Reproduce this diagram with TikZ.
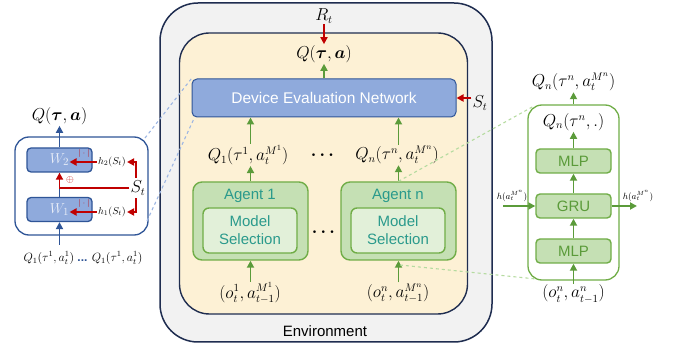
\documentclass[tikz,border=0pt]{standalone}
\usepackage[no-math]{fontspec}
\setmainfont{Liberation Sans}
\usepackage{amsmath,bm}
\usetikzlibrary{arrows.meta,calc}
\definecolor{envgray}{HTML}{F2F2F2}
\definecolor{navy}{HTML}{1F2D50}
\definecolor{ylw}{HTML}{FDF1D5}
\definecolor{bfill}{HTML}{8FAADC}
\definecolor{bdraw}{HTML}{2F5597}
\definecolor{gfill}{HTML}{C5E0B4}
\definecolor{gfilltwo}{HTML}{E2F0D9}
\definecolor{gdraw}{HTML}{70AD47}
\definecolor{garr}{HTML}{5B9B3A}
\definecolor{tealtxt}{HTML}{2A9A8C}
\definecolor{gtxt}{HTML}{5B9B3A}
\definecolor{rd}{HTML}{C00000}
\definecolor{dblue}{HTML}{9DB6E3}
\definecolor{dgreen}{HTML}{B5DBA0}
\definecolor{wtxt}{HTML}{E9EEF8}
\begin{document}
\begin{tikzpicture}[x=1pt,y=-1pt,
  tipx/.style={-{Triangle[length=7pt,width=7pt]}},
  garrow/.style={tipx, draw=garr, line width=1.8pt},
  barrow/.style={tipx, draw=bdraw, line width=1.8pt},
  rarrow/.style={tipx, draw=rd, line width=1.8pt},
  mlab/.style={font=\fontsize{16}{18}\selectfont, inner sep=1pt},
  txt/.style={font=\fontsize{15}{18}\selectfont},
  envbox/.style={draw=navy, fill=envgray, line width=1.5pt, rounded corners=38pt},
  ybox/.style={draw=navy, fill=ylw, line width=1.4pt, rounded corners=30pt},
  denbox/.style={draw=bdraw, fill=bfill, line width=1pt, rounded corners=5pt, text=white, font=\fontsize{15.5}{18}\selectfont},
  agentbox/.style={draw=gdraw, fill=gfill, line width=1.4pt, rounded corners=9pt},
  msbox/.style={draw=gdraw, fill=gfilltwo, line width=1.4pt, rounded corners=6pt, text=tealtxt, align=center, font=\fontsize{15}{18}\selectfont},
  mlpbox/.style={draw=gdraw, fill=gfill, line width=1.4pt, rounded corners=4pt, text=gtxt, font=\fontsize{15}{18}\selectfont, minimum width=75pt, minimum height=24pt},
  wbox/.style={draw=bdraw, fill=bfill, line width=1.3pt, rounded corners=4pt, text=wtxt, font=\fontsize{15}{17}\selectfont},
  dashb/.style={draw=dblue, dashed, line width=1.1pt},
  dashg/.style={draw=dgreen, dashed, line width=1.1pt}
]
\useasboundingbox (0,0) rectangle (675,347);

% ---------- environment ----------
\node[envbox, minimum width=332pt, minimum height=339pt] (env) at (326,172.5) {};
\node[ybox, minimum width=288pt, minimum height=281pt] (yel) at (323.5,173.5) {};
\node[txt] (envlab) at (325,331) {Environment};

\node[mlab] (rt) at (324,16) {$R_t$};
\node[mlab] (qtop) at (324,54) {$Q(\bm{\tau},\bm{a})$};
\node[denbox, minimum width=264pt, minimum height=38pt] (den) at (324,98) {Device Evaluation Network};
\node[mlab] (st) at (480,103) {$S_t$};

\draw[rarrow] (rt.south) -- (qtop.north);
\draw[garrow] (den.north) -- (qtop.south);
\draw[rarrow] (st.west |- den.east) -- (den.east);

\node[mlab] (q1) at (248,155) {$Q_1(\tau^1, a_t^{M^1})$};
\node[mlab] (qn) at (397,155) {$Q_n(\tau^n, a_t^{M^n})$};
\node[mlab] (dots1) at (324,155) {$\boldsymbol{\cdots}$};

\node[agentbox, minimum width=115pt, minimum height=78pt] (a1) at (250.5,221) {};
\node[agentbox, minimum width=115pt, minimum height=78pt] (an) at (398.5,221) {};
\node[txt, text=tealtxt] (a1t) at (250,196) {Agent 1};
\node[txt, text=tealtxt] (ant) at (398,196) {Agent n};
\node[msbox, minimum width=94pt, minimum height=45pt] (ms1) at (250,230.5) {Model\\Selection};
\node[msbox, minimum width=94pt, minimum height=45pt] (msn) at (398,230.5) {Model\\Selection};
\node[mlab] (dots2) at (325,232) {$\boldsymbol{\cdots}$};

\node[mlab] (o1) at (250,293) {$(o_t^1, a_{t-1}^{M^1})$};
\node[mlab] (on) at (398,293) {$(o_t^n, a_{t-1}^{M^n})$};

\draw[garrow] (q1.north -| a1.north) -- (den.south -| a1.north);
\draw[garrow] (qn.north -| an.north) -- (den.south -| an.north);
\draw[garrow] (a1.north) -- (q1.south -| a1.north);
\draw[garrow] (an.north) -- (qn.south -| an.north);
\draw[garrow] (o1.north -| a1.south) -- (a1.south);
\draw[garrow] (on.north -| an.south) -- (an.south);

% ---------- left detail ----------
\node[draw=bdraw, fill=white, line width=1.3pt, rounded corners=14pt, minimum width=133pt, minimum height=98pt] (lbox) at (81.5,186) {};
\node[wbox, minimum width=65pt, minimum height=24pt] (w2) at (59.5,160) {$W_2$};
\node[wbox, minimum width=65pt, minimum height=24pt] (w1) at (59.5,209.5) {$W_1$};
\node[mlab] (ql) at (59.5,116) {$Q(\bm{\tau},\bm{a})$};
\node[font=\fontsize{12}{14}\selectfont, inner sep=0pt] (qbot) at (83,258) {$Q_1(\tau^1,a_t^1)$ {\color{bdraw}\textbf{...}} $Q_1(\tau^1,a_t^1)$};
\coordinate (lin) at (59.5,245);
\draw[barrow] (w2.north) -- (ql.south);
\draw[barrow] (lin) -- (w1.south);
\draw[bdraw, line width=1.8pt] (w1.north) -- (w2.south);

\node[font=\fontsize{10}{11}\selectfont, inner sep=1pt] (h2) at (112,162) {$h_2(S_t)$};
\node[font=\fontsize{10}{11}\selectfont, inner sep=1pt] (h1) at (112,212) {$h_1(S_t)$};
\node[font=\fontsize{16}{18}\selectfont, inner sep=1pt] (stl) at (138,188) {$S_t$};
\node[text=rd, font=\fontsize{8}{9}\selectfont, inner sep=0pt] (abs2) at (84,154) {$|\cdot|$};
\node[text=rd, font=\fontsize{8}{9}\selectfont, inner sep=0pt] (abs1) at (84,203.5) {$|\cdot|$};
\node[text=rd, font=\fontsize{10}{11}\selectfont, inner sep=0pt] (oplus) at (70,180) {$\oplus$};

\draw[rarrow, shorten >=10pt] (h2.west) -- (h2.west -| w2.center);
\draw[rarrow, shorten >=10pt] (h1.west) -- (h1.west -| w1.center);
\draw[rarrow] (stl.north -| 136,0) ++(0,-2) |- (h2.east);
\draw[rarrow] (stl.south -| 136,0) ++(0,2) |- (h1.east);
\draw[rarrow] (stl.west) -| (w2.south);

% ---------- right detail ----------
\node[draw=gdraw, fill=white, line width=1.3pt, rounded corners=14pt, minimum width=91pt, minimum height=175pt] (rbox) at (573.5,192.5) {};
\node[mlpbox] (mlp1) at (573.5,161) {MLP};
\node[mlpbox] (gru) at (573.5,206) {GRU};
\node[mlpbox] (mlp2) at (573.5,251) {MLP};
\node[mlab] (qnt) at (573.5,82) {$Q_n(\tau^n, a_t^{M^n})$};
\node[mlab] (qnm) at (573.5,122) {$Q_n(\tau^n, .)$};
\node[mlab] (onr) at (573.5,294) {$(o_t^n, a_{t-1}^n)$};
\node[font=\fontsize{9}{10}\selectfont, inner sep=1pt] (hl) at (512,196) {$h(a_t^{M^n})$};
\node[font=\fontsize{9}{10}\selectfont, inner sep=1pt] (hr) at (638,196) {$h(a_t^{M^n})$};
\coordinate (hin) at (503,206);
\coordinate (hout) at (637,206);

\draw[garrow] (rbox.north) -- (qnt.south);
\draw[garrow] (mlp1.north) -- (qnm.south);
\draw[garrow] (gru.north) -- (mlp1.south);
\draw[garrow] (mlp2.north) -- (gru.south);
\draw[garrow] (onr.north) -- (mlp2.south);
\draw[garrow] (hin) -- (gru.west);
\draw[garrow] (gru.east) -- (hout);

% ---------- zoom connectors ----------
\coordinate (lbt) at (145,138);
\coordinate (lbb) at (147,221);
\coordinate (rbt) at (534,106);
\coordinate (rbb) at (536,279);
\coordinate (anb) at (400,265);
\draw[dashb] (lbt) -- (den.north west);
\draw[dashb] (lbb) -- ($(den.south west)+(3,0)$);
\draw[dashg] (an.north) -- (rbt);
\draw[dashg] (anb) -- (rbb);
\end{tikzpicture}
\end{document}
